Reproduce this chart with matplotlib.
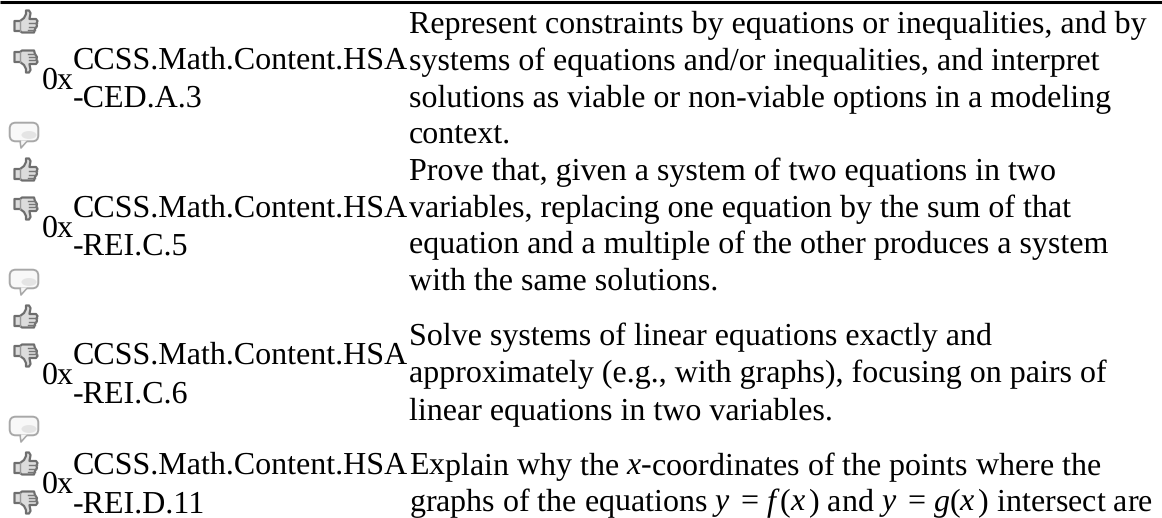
import matplotlib
matplotlib.use('Agg')
import matplotlib.pyplot as plt
from matplotlib.patches import Polygon, FancyBboxPatch, Ellipse

W, H = 1162, 518
FS = 23

plt.rcParams['font.family'] = ['Liberation Serif', 'DejaVu Serif']
plt.rcParams['mathtext.fontset'] = 'custom'
plt.rcParams['mathtext.rm'] = 'Liberation Serif'
plt.rcParams['mathtext.it'] = 'Liberation Serif:italic'
plt.rcParams['text.hinting'] = 'no_hinting'
plt.rcParams['text.hinting_factor'] = 1

# table contents
counts = ['0x', '0x', '0x', '0x']
codes = [('CCSS.Math.Content.HSA', '-CED.A.3'),
         ('CCSS.Math.Content.HSA', '-REI.C.5'),
         ('CCSS.Math.Content.HSA', '-REI.C.6'),
         ('CCSS.Math.Content.HSA', '-REI.D.11')]
descriptions = [
    ['Represent constraints by equations or inequalities, and by',
     'systems of equations and/or inequalities, and interpret',
     'solutions as viable or non-viable options in a modeling',
     'context.'],
    ['Prove that, given a system of two equations in two',
     'variables, replacing one equation by the sum of that',
     'equation and a multiple of the other produces a system',
     'with the same solutions.'],
    ['Solve systems of linear equations exactly and',
     'approximately (e.g., with graphs), focusing on pairs of',
     'linear equations in two variables.'],
    ['Explain why the $x$-coordinates of the points where the',
     r'graphs of the equations $y\,$ = $f\,(x\,)$ and $y\,$ = $g(x\,)$ intersect are'],
]

# baselines in pixels from the top
code_y = [(69, 107), (217, 255), (364, 403), (474, 513)]
count_y = [89, 237, 384, 493]
desc_y = [[33, 70, 107, 143],
          [180, 217, 253, 290],
          [345, 382, 420],
          [475, 511]]
up_y = [10, 158, 305, 452]
down_y = [50, 197, 344, 491]
bubble_y = [122, 269, 416]

THUMB = [(0.5, 11), (6, 11), (10, 8), (12, 4), (12, 0.5), (15, 0.5), (16.5, 3), (15.5, 9),
         (22, 9), (23.5, 11), (22.5, 13.5), (23, 16), (21, 19), (20, 22.5),
         (8, 22.5), (6, 21), (0.5, 21)]
FINGERS = [((15, 13), (22.5, 13)), ((15, 16.5), (22, 16.5)), ((14, 19.5), (20.5, 19.5))]


def thumb(ax, x, y, flip=False):
    f = lambda py: y + (23 - py if flip else py)
    pts = [(x + px, f(py)) for px, py in THUMB]
    ax.add_patch(Polygon(pts, closed=True, fc='#dcdcdc', ec='#6e6e6e', lw=1.6, joinstyle='round'))
    for (x0, y0), (x1, y1) in FINGERS:
        ax.plot([x + x0, x + x1], [f(y0), f(y1)], color='#777777', lw=1.0)
    ax.plot([x + 6, x + 6], [f(11), f(21)], color='#999999', lw=1.0)


def bubble(ax, x, y):
    ax.add_patch(Polygon([(x + 11, y + 18), (x + 12, y + 26), (x + 19, y + 18)],
                         closed=True, fc='#f6f6f6', ec='#a8a8a8', lw=1.2, joinstyle='round'))
    ax.add_patch(FancyBboxPatch((x + 0.7, y + 0.7), 28.6, 18.6, boxstyle='round,pad=0,rounding_size=6',
                                fc='#f8f8f8', ec='#a8a8a8', lw=1.4))
    ax.add_patch(Ellipse((x + 20, y + 13), 15, 8, fc='#d8d8d8', ec='none', alpha=0.6))
    ax.add_patch(Polygon([(x + 12, y + 18.5), (x + 12.6, y + 23), (x + 18, y + 18.5)],
                         closed=True, fc='#f6f6f6', ec='none'))


fig = plt.figure(figsize=(W / 100, H / 100), dpi=100)
ax = fig.add_axes([0, 0, 1, 1])
ax.set_xlim(0, W)
ax.set_ylim(H, 0)
ax.axis('off')

ax.plot([0, W], [1.5, 1.5], color='black', lw=2.2, solid_capstyle='butt')

for y in up_y:
    thumb(ax, 14, y)
for y in down_y:
    thumb(ax, 14, y, flip=True)
for y in bubble_y:
    bubble(ax, 9, y)

for c, y in zip(counts, count_y):
    ax.text(42, y, c, fontsize=FS, va='baseline', ha='left', color='black')
for (a, b), (y1, y2) in zip(codes, code_y):
    ax.text(73, y1, a, fontsize=FS, va='baseline', ha='left', color='black')
    ax.text(73, y2, b, fontsize=FS, va='baseline', ha='left', color='black')
for lines, ys in zip(descriptions, desc_y):
    for line, y in zip(lines, ys):
        ax.text(409, y, line, fontsize=FS, va='baseline', ha='left', color='black')

fig.savefig('out.png', dpi=100)
